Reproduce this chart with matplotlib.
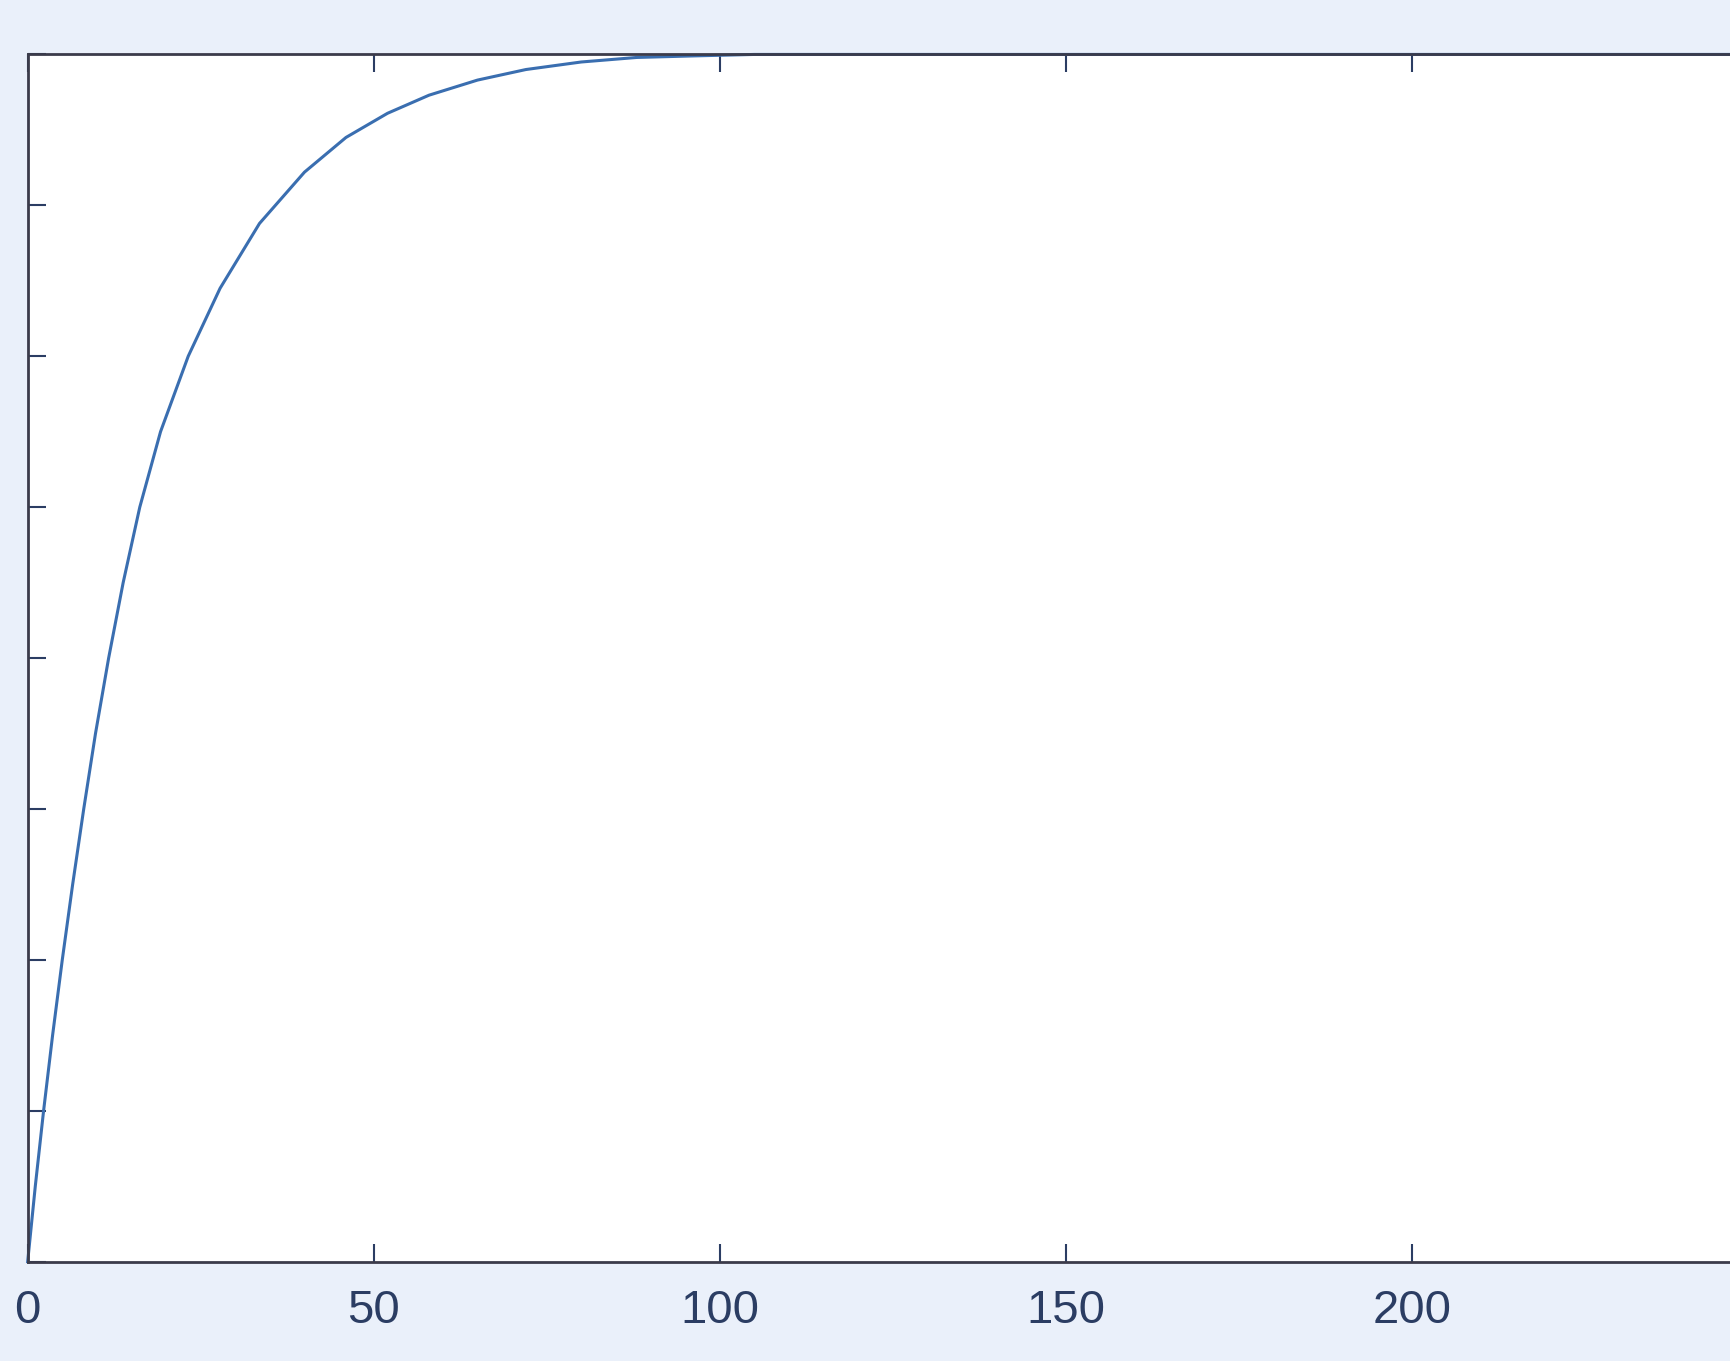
import matplotlib.pyplot as plt

# values (top of the axes taken as 0.8, 8 tick intervals)
x = [0, 1.1, 2.3, 3.6, 5.0, 6.5, 8.1, 9.8, 11.7, 13.8, 16.2, 19.2, 23.2,
     27.8, 33.5, 40, 46, 52, 58, 65, 72, 80, 88, 96, 105, 115, 150, 200, 250]
y = [0, 0.05, 0.10, 0.15, 0.20, 0.25, 0.30, 0.35, 0.40, 0.45, 0.50, 0.55,
     0.60, 0.645, 0.688, 0.722, 0.745, 0.761, 0.773, 0.783, 0.790, 0.795,
     0.798, 0.799, 0.8, 0.8, 0.8, 0.8, 0.8]
xticks = [0, 50, 100, 150, 200]
yticks = [0, 0.1, 0.2, 0.3, 0.4, 0.5, 0.6, 0.7, 0.8]

plt.rcParams['font.family'] = ['Liberation Sans', 'DejaVu Sans']

fig = plt.figure(figsize=(17.3, 13.61), dpi=100, facecolor="#eaf0fa")
ax = fig.add_axes([0.016, 0.073, 1.0, 0.887])
ax.set_facecolor("white")

ax.plot(x, y, color="#3a6eb0", lw=2.2, clip_on=False)

ax.set_xlim(0, 250)
ax.set_ylim(0, 0.8)
ax.set_xticks(xticks)
ax.set_yticks(yticks)
ax.tick_params(direction="in", length=13, width=1.5, top=True, right=True,
               labelleft=False, labelsize=34, colors="#2b3d63", pad=20)
for s in ax.spines.values():
    s.set_color("#3b3b4a")
    s.set_linewidth(2)

fig.savefig("out.png", dpi=100, facecolor=fig.get_facecolor())
